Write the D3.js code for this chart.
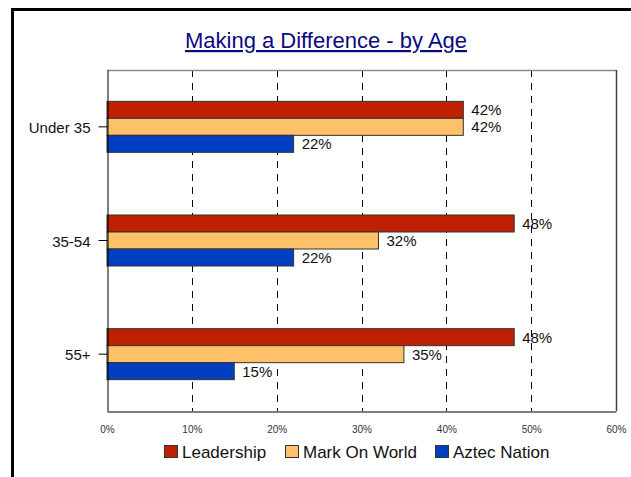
<!DOCTYPE html>
<html><head><meta charset="utf-8">
<script src="https://cdn.jsdelivr.net/npm/d3@7"></script>
<style>body{margin:0;background:#fff;} svg{display:block;font-family:"Liberation Sans",Arial,sans-serif;}</style>
</head><body>
<script>
const categories = ["Under 35", "35-54", "55+"];
const seriesNames = ["Leadership", "Mark On World", "Aztec Nation"];
const leadership = [42, 48, 48];
const markOnWorld = [42, 32, 35];
const aztecNation = [22, 22, 15];
const tickValues = [0, 10, 20, 30, 40, 50, 60];
const tickLabels = ["0%", "10%", "20%", "30%", "40%", "50%", "60%"];
const colors = ["#BF2000", "#FFC06A", "#0040C0"];
const seriesData = [leadership, markOnWorld, aztecNation];

(function(){
const W = 631, H = 477;
const FONT = "Liberation Sans, Arial, sans-serif";
const svg = d3.select("body").append("svg").attr("width", W).attr("height", H);

svg.append("path").attr("d", "M12.5,477 L12.5,9.5 L631,9.5").attr("fill","none").attr("stroke","#000").attr("stroke-width",3);

svg.append("text").attr("x", 326).attr("y", 48).attr("text-anchor","middle")
  .attr("font-size", 22).attr("fill", "#0A0A80").attr("text-decoration","underline")
  .text("Making a Difference - by Age");

const pL = 107, pR = 616, pT = 70, pB = 411;
const x = d3.scaleLinear().domain([0, 60]).range([pL, pR]);
const y = d3.scaleBand().domain(categories).range([pT, pB]);
const inner = d3.scaleBand().domain(seriesNames).range([0, 51]);
const groupOffset = (y.bandwidth() - 51) / 2;

svg.append("g").selectAll("line").data(tickValues.filter(v => v > 0 && v < 60)).join("line")
  .attr("x1", d => Math.round(x(d)) + 0.5).attr("x2", d => Math.round(x(d)) + 0.5)
  .attr("y1", pT).attr("y2", pB)
  .attr("stroke", "#000").attr("stroke-dasharray", "7,6");

svg.append("line").attr("x1", pL).attr("x2", pR + 0.5).attr("y1", pT + 0.5).attr("y2", pT + 0.5).attr("stroke", "#8a8a8a").attr("stroke-width", 1.5);
svg.append("line").attr("x1", pR + 0.5).attr("x2", pR + 0.5).attr("y1", pT).attr("y2", pB).attr("stroke", "#404040").attr("stroke-width", 1.5);

const g = svg.append("g");
categories.forEach((c, ci) => {
  seriesNames.forEach((s, si) => {
    const v = seriesData[si][ci];
    const by = y(c) + groupOffset + inner(s);
    g.append("rect").attr("x", x(0)).attr("y", by)
      .attr("width", x(v) - x(0)).attr("height", inner.bandwidth())
      .attr("fill", colors[si]).attr("stroke", "#333").attr("stroke-width", 1);
    g.append("text").attr("x", x(v) + 8).attr("y", by + inner.bandwidth() / 2 + 5.5)
      .attr("font-size", 15).attr("fill", "#111").attr("font-family", FONT).text(v + "%");
  });
});

const yAxis = d3.axisLeft(y).tickSize(9).tickSizeOuter(0).tickPadding(8);
const ya = svg.append("g").attr("transform", `translate(${pL + 0.5},0)`).call(yAxis);
ya.select(".domain").attr("stroke", "#000");
ya.selectAll("text").attr("font-size", 15).attr("fill", "#111").attr("font-family", FONT).attr("dy", "0.4em");

const xAxis = d3.axisBottom(x).tickValues(tickValues).tickFormat((d, i) => tickLabels[i]).tickSize(0).tickPadding(14);
const xa = svg.append("g").attr("transform", `translate(0,${pB + 0.5})`).call(xAxis);
xa.select(".domain").attr("stroke", "#555").attr("stroke-width", 1.5);
xa.selectAll("text").attr("font-size", 10).attr("fill", "#333").attr("font-family", FONT);

const legendX = [164, 285, 435];
seriesNames.forEach((s, i) => {
  svg.append("rect").attr("x", legendX[i] + 0.5).attr("y", 445.5).attr("width", 13).attr("height", 12)
    .attr("fill", colors[i]).attr("stroke", "#333");
  svg.append("text").attr("x", legendX[i] + 18).attr("y", 458).attr("font-size", 17).attr("fill", "#111").attr("font-family", FONT).text(s);
});
})();
</script>
</body></html>
